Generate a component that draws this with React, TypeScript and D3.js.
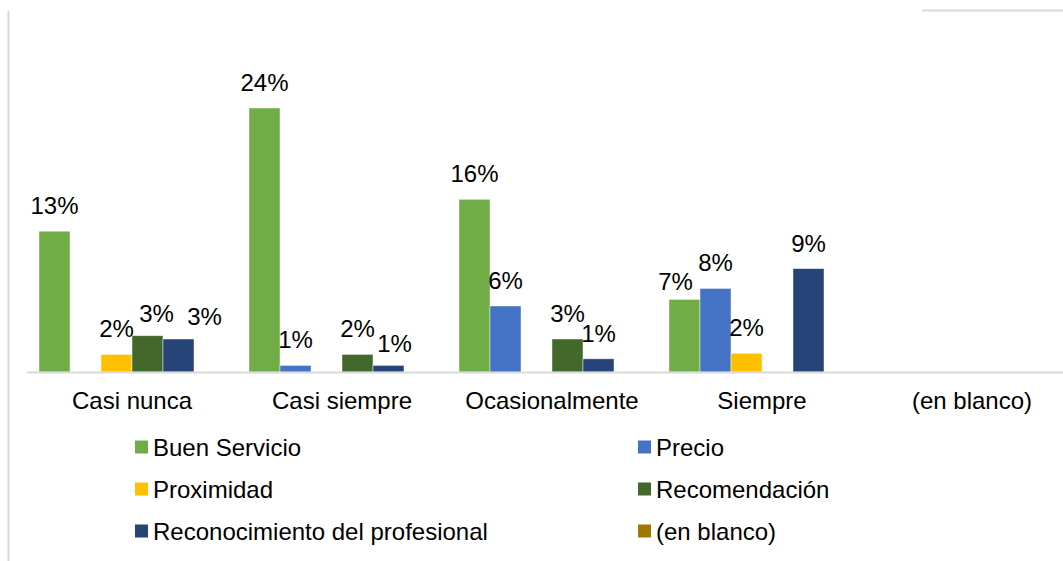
import React, { useEffect, useRef } from 'react';
import * as d3 from 'd3';

const categories = ['Casi nunca', 'Casi siempre', 'Ocasionalmente', 'Siempre', '(en blanco)'];
const seriesNames = [
  'Buen Servicio',
  'Precio',
  'Proximidad',
  'Recomendación',
  'Reconocimiento del profesional',
  '(en blanco)',
];
const seriesColors = ['#70ad47', '#4472c4', '#ffc000', '#43682b', '#264478', '#9e7800'];

// share per category, null = no bar
const buenServicio = [0.128, 0.24, 0.157, 0.066, null];
const precio = [null, 0.006, 0.06, 0.076, null];
const proximidad = [0.016, null, null, 0.017, null];
const recomendacion = [0.033, 0.016, 0.03, null, null];
const reconocimiento = [0.03, 0.006, 0.012, 0.094, null];
const enBlanco = [null, null, null, null, null];

const seriesValues = [buenServicio, precio, proximidad, recomendacion, reconocimiento, enBlanco];

// Excel moved a few labels aside to avoid overlaps
const labelNudge: Record<string, [number, number]> = {
  'Casi nunca|Recomendación': [9, 3],
  'Casi nunca|Reconocimiento del profesional': [26, 3],
  'Casi siempre|Reconocimiento del profesional': [6, 4],
  'Siempre|Buen Servicio': [-9, 8],
};

const W = 1063;
const H = 561;
const FONT = '"Liberation Sans", Arial, sans-serif';
const FS = '24px';

const App = () => {
  const svgRef = useRef<SVGSVGElement>(null);

  useEffect(() => {
    const svg = d3.select(svgRef.current);
    svg.selectAll('*').remove();

    const baseY = 372;

    const x0 = d3.scaleBand()
      .domain(categories)
      .range([27, 1077])
      .paddingInner(24 / 210)
      .paddingOuter(12 / 210);

    const x1 = d3.scaleBand()
      .domain(seriesNames)
      .range([0, x0.bandwidth()]);

    const y = d3.scaleLinear()
      .domain([0, 0.25])
      .range([baseY, baseY - 275]);

    const fmt = d3.format('.0%');

    // frame bits
    svg.append('line')
      .attr('x1', 8.5).attr('x2', 8.5)
      .attr('y1', 11).attr('y2', H)
      .attr('stroke', '#d9d9d9').attr('stroke-width', 2);
    svg.append('line')
      .attr('x1', 922).attr('x2', W)
      .attr('y1', 10.5).attr('y2', 10.5)
      .attr('stroke', '#d9d9d9').attr('stroke-width', 2);

    const rows = [];
    categories.forEach((c, ci) => {
      seriesNames.forEach((s, si) => {
        const v = seriesValues[si][ci];
        if (v != null) rows.push({ c, s, v, color: seriesColors[si] });
      });
    });

    svg.append('g')
      .selectAll('rect')
      .data(rows)
      .enter()
      .append('rect')
      .attr('x', d => x0(d.c) + x1(d.s))
      .attr('y', d => y(d.v))
      .attr('width', x1.bandwidth())
      .attr('height', d => baseY - y(d.v))
      .attr('fill', d => d.color)
      .attr('stroke', 'rgba(255,255,255,0.6)')
      .attr('stroke-width', 0.75);

    // baseline
    svg.append('line')
      .attr('x1', 27).attr('x2', W)
      .attr('y1', baseY + 0.5).attr('y2', baseY + 0.5)
      .attr('stroke', '#d9d9d9').attr('stroke-width', 2);

    // data labels
    svg.append('g')
      .selectAll('text')
      .data(rows)
      .enter()
      .append('text')
      .attr('x', d => x0(d.c) + x1(d.s) + x1.bandwidth() / 2 + (labelNudge[d.c + '|' + d.s]?.[0] || 0))
      .attr('y', d => y(d.v) - 17 + (labelNudge[d.c + '|' + d.s]?.[1] || 0))
      .attr('text-anchor', 'middle')
      .style('font-family', FONT)
      .style('font-size', FS)
      .attr('fill', '#000')
      .text(d => fmt(d.v));

    // category labels
    svg.append('g')
      .selectAll('text')
      .data(categories)
      .enter()
      .append('text')
      .attr('x', d => x0(d) + x0.bandwidth() / 2)
      .attr('y', 409)
      .attr('text-anchor', 'middle')
      .style('font-family', FONT)
      .style('font-size', FS)
      .attr('fill', '#000')
      .text(d => d);

    // legend, two columns
    const legend = svg.append('g');
    seriesNames.forEach((name, i) => {
      const col = i % 2;
      const row = Math.floor(i / 2);
      const lx = col === 0 ? 135 : 638;
      const cy = 447 + row * 42;
      const item = legend.append('g').attr('transform', `translate(${lx}, ${cy})`);
      item.append('rect')
        .attr('x', 0).attr('y', -6.5)
        .attr('width', 13).attr('height', 13)
        .attr('fill', seriesColors[i]);
      item.append('text')
        .attr('x', 18)
        .attr('y', 8.5)
        .style('font-family', FONT)
        .style('font-size', FS)
        .attr('fill', '#000')
        .text(name);
    });
  }, []);

  return (
    <svg
      ref={svgRef}
      width={W}
      height={H}
      style={{ position: 'absolute', left: 0, top: 0, display: 'block', background: '#fff' }}
    />
  );
};

export default App;
